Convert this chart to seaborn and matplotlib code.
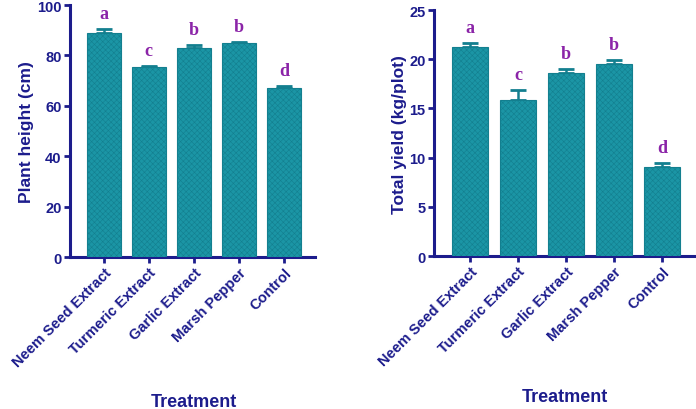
import numpy as np
import pandas as pd
import seaborn as sns
from matplotlib import pyplot as plt

# data
treatments = ["Neem Seed Extract", "Turmeric Extract", "Garlic Extract",
              "Marsh Pepper", "Control"]
height = [89.0, 75.4, 82.9, 85.0, 67.1]
height_err = [1.6, 0.6, 1.1, 0.4, 0.6]
yield_kg = [21.2, 15.9, 18.6, 19.5, 9.1]
yield_err = [0.5, 1.0, 0.4, 0.4, 0.4]
letters_height = ["a", "c", "b", "b", "d"]
letters_yield = ["a", "c", "b", "b", "d"]

navy = "#1c1c8c"
teal = "#1b95a5"
teal_dark = "#137f8f"
purple = "#8b24a8"

sns.set_style("ticks")
plt.rcParams["font.family"] = ["Liberation Sans", "DejaVu Sans"]
plt.rcParams["hatch.linewidth"] = 0.4

fig = plt.figure(figsize=(6.96, 4.10), dpi=100)
ax1 = fig.add_axes([0.1006, 0.3707, 0.352, 0.6146])
ax2 = fig.add_axes([0.6236, 0.373, 0.375, 0.60])


def draw_panel(ax, values, errs, letters, ylabel, ylim, yticks):
    df = pd.DataFrame({"Treatment": treatments, "value": values})
    sns.barplot(data=df, x="Treatment", y="value", ax=ax, color=teal,
                width=0.75, saturation=1, errorbar=None, zorder=3)
    for p in ax.patches:
        p.set_facecolor(teal)
        p.set_edgecolor(teal_dark)
        p.set_hatch("xxxxxx")
        p.set_linewidth(0.8)
    x = np.arange(len(values))
    ax.errorbar(x, values, yerr=[np.zeros(len(errs)), errs], fmt="none",
                ecolor=teal_dark, elinewidth=1.8, capsize=5.5, capthick=2,
                zorder=2)
    for xi, v, e, lab in zip(x, values, errs, letters):
        ax.annotate(lab, (xi, v + e), xytext=(0, 5), textcoords="offset points",
                    ha="center", va="bottom", color=purple, fontsize=13,
                    fontweight="bold", family="Liberation Serif")
    ax.set_xlim(-0.75, 4.69)
    ax.set_ylim(*ylim)
    ax.set_yticks(yticks)
    sns.despine(ax=ax)
    for s in ["left", "bottom"]:
        ax.spines[s].set_color(navy)
        ax.spines[s].set_linewidth(2.2)
    ax.tick_params(colors=navy, width=2, length=4, pad=2, labelsize=10.5)
    for t in ax.get_yticklabels():
        t.set_fontweight("bold")
    ax.set_xticks(x)
    ax.set_xticklabels(treatments, rotation=45, ha="right",
                       rotation_mode="anchor", fontweight="bold",
                       fontsize=10.5, color=navy)
    ax.set_xlabel("")
    ax.set_ylabel(ylabel, color=navy, fontweight="bold", fontsize=12.5,
                  labelpad=2)


draw_panel(ax1, height, height_err, letters_height, "Plant height (cm)",
           (0, 100), [0, 20, 40, 60, 80, 100])
draw_panel(ax2, yield_kg, yield_err, letters_yield, "Total yield (kg/plot)",
           (0, 25), [0, 5, 10, 15, 20, 25])

fig.text(194 / 696, 1 - 403 / 410, "Treatment", ha="center", va="center",
         color=navy, fontweight="bold", fontsize=13)
fig.text(565 / 696, 1 - 398 / 410, "Treatment", ha="center", va="center",
         color=navy, fontweight="bold", fontsize=13)

fig.savefig("out.png", dpi=100)
